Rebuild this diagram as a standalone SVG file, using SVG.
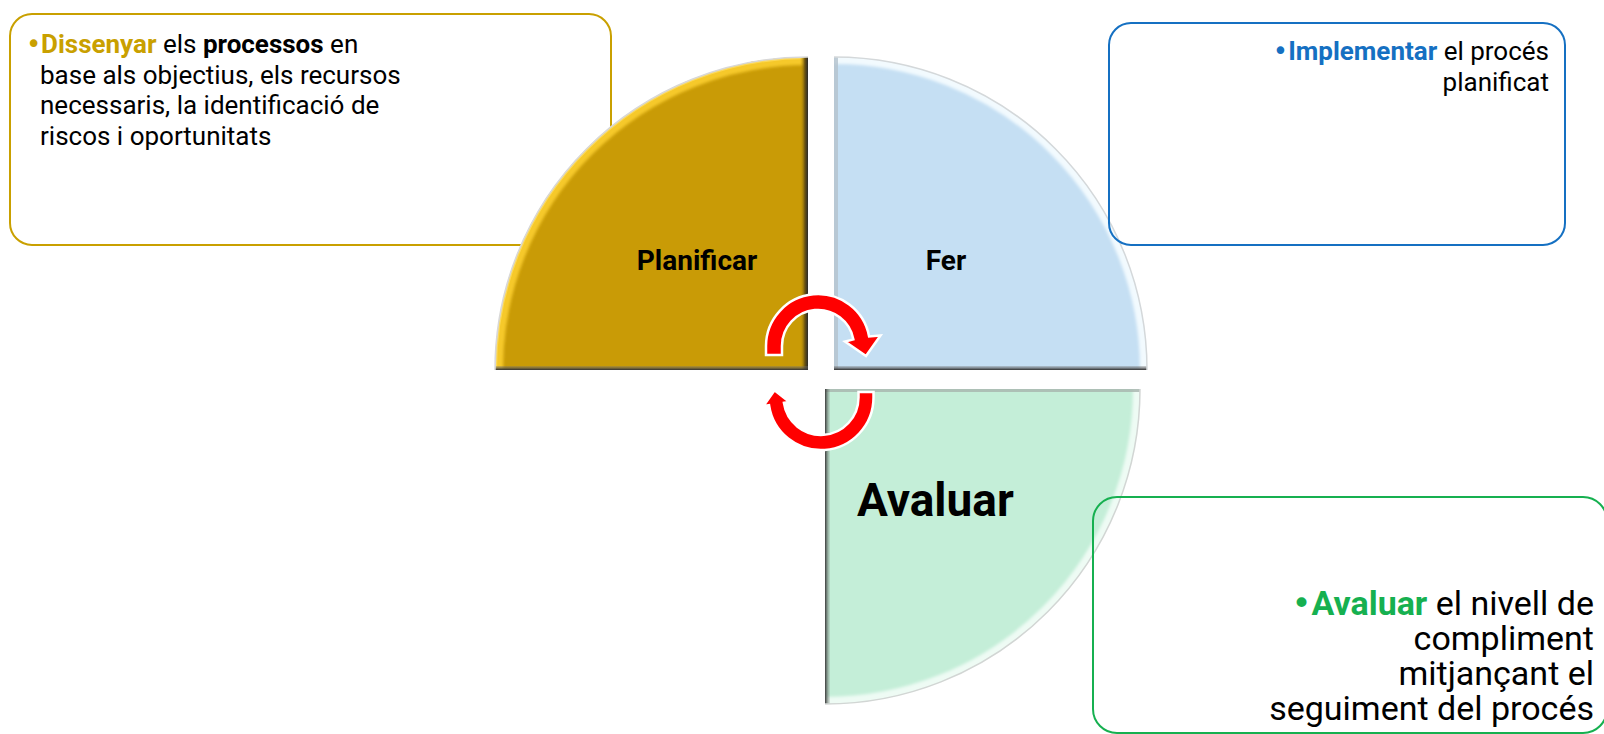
<svg xmlns="http://www.w3.org/2000/svg" width="1604" height="734" viewBox="0 0 1604 734">
  <style>
    .txt { font-family: Roboto, "Open Sans", "Liberation Sans", sans-serif; fill: #000; }
    .b { font-weight: bold; }
    .bul { font-family: "DejaVu Sans", sans-serif; font-weight: normal; }
    .box { fill: none; stroke-width: 2; }
    .lbl { font-family: Roboto, "Open Sans", "Liberation Sans", sans-serif; font-weight: bold; fill: #000; }
    .arrow { fill: #FF0000; stroke: #FFFFFF; stroke-width: 2.5; stroke-linejoin: miter; }
  </style>
  <defs>
    <filter id="soft" x="-10%" y="-10%" width="120%" height="120%">
      <feGaussianBlur stdDeviation="1.6"/>
    </filter>
    <clipPath id="clipP"><path d="M 808 370 L 495 370 A 313 313 0 0 1 808 57 Z"/></clipPath>
    <clipPath id="clipF"><path d="M 834 370 L 834 57 A 313 313 0 0 1 1147 370 Z"/></clipPath>
    <clipPath id="clipA"><path d="M 825 389 L 1140 389 A 315 315 0 0 1 825 704 Z"/></clipPath>
    <linearGradient id="gRightP" x1="0" y1="0" x2="1" y2="0">
      <stop offset="0" stop-color="#C99B06" stop-opacity="0"/>
      <stop offset="0.6" stop-color="#6B5410"/>
      <stop offset="1" stop-color="#2A2A2A"/>
    </linearGradient>
    <linearGradient id="gBottom" x1="0" y1="0" x2="0" y2="1">
      <stop offset="0" stop-color="#777" stop-opacity="0.3"/>
      <stop offset="1" stop-color="#2E2E2E"/>
    </linearGradient>
    <linearGradient id="gLeftA" x1="0" y1="0" x2="1" y2="0">
      <stop offset="0" stop-color="#3A3A3A"/>
      <stop offset="1" stop-color="#8A9A90" stop-opacity="0.2"/>
    </linearGradient>
  </defs>

  <!-- Planificar description box (behind quadrant) -->
  <g id="box-planificar">
    <rect class="box" x="10" y="14" width="601" height="231" rx="22" stroke="#C9A000"/>
    <text class="txt" font-size="26" y="53"><tspan class="bul" x="26" fill="#C9A000">•</tspan><tspan x="41" class="b" fill="#C9A000">Dissenyar</tspan> els <tspan class="b">processos</tspan> en</text>
    <text class="txt" font-size="26" x="40" y="83.5">base als objectius, els recursos</text>
    <text class="txt" font-size="26" x="40" y="114">necessaris, la identificació de</text>
    <text class="txt" font-size="26" x="40" y="144.5">riscos i oportunitats</text>
  </g>

  <!-- Planificar quadrant -->
  <g id="node-planificar">
    <path d="M 808 370 L 495 370 A 313 313 0 0 1 808 57 Z" fill="#C99B06"/>
    <g clip-path="url(#clipP)">
      <path d="M 495 370 A 313 313 0 0 1 808 57" fill="none" stroke="#F6C92C" stroke-width="16" filter="url(#soft)"/>
      <path d="M 495 370 A 313 313 0 0 1 808 57" fill="none" stroke="#FFE27A" stroke-width="4" opacity="0.6"/>
      <rect x="800" y="57" width="8" height="313" fill="url(#gRightP)"/>
      <rect x="495" y="366" width="313" height="4" fill="url(#gBottom)"/>
    </g>
    <path d="M 495 370 A 313 313 0 0 1 808 57" fill="none" stroke="#D8D8D8" stroke-width="1.5"/>
    <text class="lbl" x="697" y="270" font-size="28" text-anchor="middle">Planificar</text>
  </g>

  <!-- Fer quadrant -->
  <g id="node-fer">
    <path d="M 834 370 L 834 57 A 313 313 0 0 1 1147 370 Z" fill="#C5DFF3"/>
    <g clip-path="url(#clipF)">
      <path d="M 834 57 A 313 313 0 0 1 1147 370" fill="none" stroke="#F2FAFE" stroke-width="14" filter="url(#soft)"/>
      <rect x="834" y="57" width="4" height="313" fill="#B4C2CC" opacity="0.8"/>
      <rect x="834" y="366" width="313" height="4" fill="url(#gBottom)"/>
    </g>
    <path d="M 834 57 A 313 313 0 0 1 1147 370" fill="none" stroke="#D4D8DA" stroke-width="1.5"/>
    <text class="lbl" x="946" y="270" font-size="28" text-anchor="middle">Fer</text>
  </g>

  <!-- Avaluar quadrant -->
  <g id="node-avaluar">
    <path d="M 825 389 L 1140 389 A 315 315 0 0 1 825 704 Z" fill="#C4EED8"/>
    <g clip-path="url(#clipA)">
      <path d="M 1140 389 A 315 315 0 0 1 825 704" fill="none" stroke="#EEFBF4" stroke-width="14" filter="url(#soft)"/>
      <rect x="825" y="389" width="315" height="3" fill="#A8B4AE" opacity="0.8"/>
      <rect x="825" y="389" width="5" height="315" fill="url(#gLeftA)"/>
    </g>
    <path d="M 1140 389 A 315 315 0 0 1 825 704" fill="none" stroke="#D2D6D4" stroke-width="1.5"/>
    <text class="lbl" x="857" y="516" font-size="46">Avaluar</text>
  </g>

  <!-- Fer description box -->
  <g id="box-fer">
    <rect class="box" x="1109" y="23" width="456" height="222" rx="22" stroke="#1570C2"/>
    <text class="txt" font-size="26" x="1549" y="60" text-anchor="end"><tspan class="bul" fill="#1570C2">•</tspan><tspan class="b" fill="#1570C2">Implementar</tspan> el procés</text>
    <text class="txt" font-size="26" x="1549" y="91" text-anchor="end">planificat</text>
  </g>

  <!-- Avaluar description box -->
  <g id="box-avaluar">
    <rect class="box" x="1093" y="497" width="514" height="236" rx="24" stroke="#16B050"/>
    <text class="txt" font-size="34" x="1594" y="615" text-anchor="end"><tspan class="bul" fill="#16B050">•</tspan><tspan class="b" fill="#16B050">Avaluar</tspan> el nivell de</text>
    <text class="txt" font-size="34" x="1594" y="650" text-anchor="end">compliment</text>
    <text class="txt" font-size="34" x="1594" y="685" text-anchor="end">mitjançant el</text>
    <text class="txt" font-size="34" x="1594" y="720" text-anchor="end">seguiment del procés</text>
  </g>

  <!-- Cycle arrows -->
  <g id="connectors">
    <path class="arrow" d="M 766 355 L 766 346 A 52 52 0 0 1 869.1 336.5 L 880.5 335.5 L 866 356 L 845 341.5 L 853.4 339.4 A 36 36 0 0 0 782 346 L 782 355 Z"/>
    <path class="arrow" d="M 873.5 392 L 873.5 397.5 A 52.5 52.5 0 0 1 769.05 405.1 L 763.6 405.9 L 774.5 390.2 L 789.4 402.1 L 783.9 402.9 A 37.5 37.5 0 0 0 858.5 397.5 L 858.5 392 Z"/>
  </g>
</svg>
